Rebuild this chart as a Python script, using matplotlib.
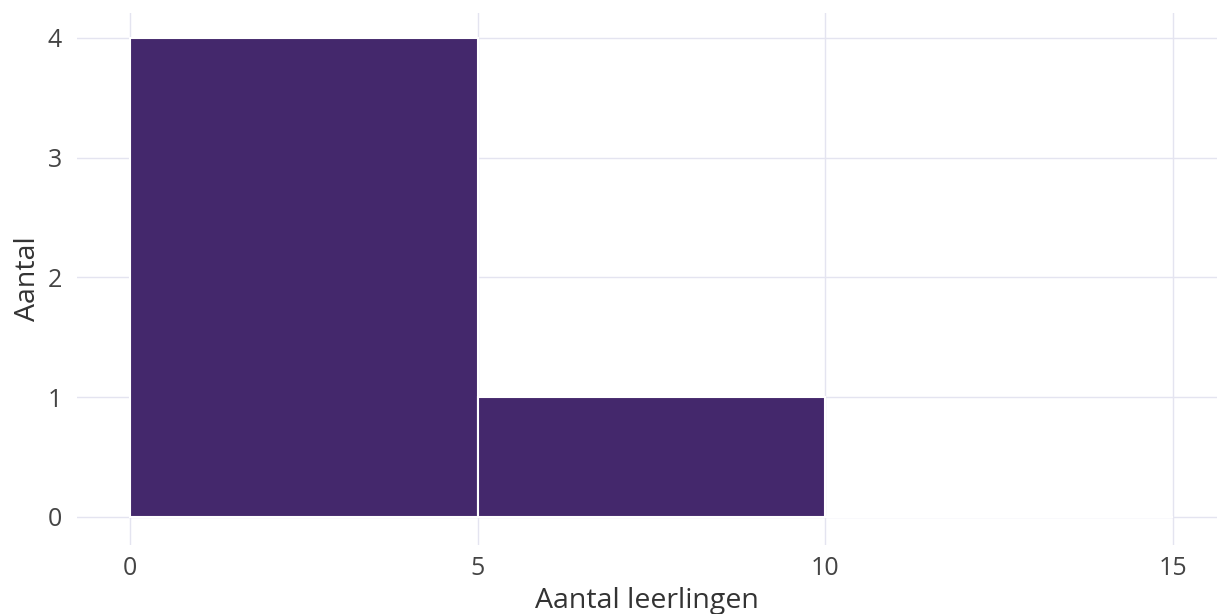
import matplotlib
matplotlib.use("Agg")
import matplotlib.pyplot as plt

bin_edges = [0, 5, 10, 15]
counts = [4, 1, 0]
x_ticks = [0, 5, 10, 15]
y_ticks = [0, 1, 2, 3, 4]
x_label = "Aantal leerlingen"
y_label = "Aantal"

plt.rcParams['font.family'] = ['Open Sans', 'DejaVu Sans']

W, H = 1217, 614
fig = plt.figure(figsize=(W / 100, H / 100), dpi=100)
left, right, top, bottom = 77, 1217, 13, 545
ax = fig.add_axes([left / W, 1 - bottom / H, (right - left) / W, (bottom - top) / H])

x0_px, x15_px = 130, 1173
ppu = (x15_px - x0_px) / 15
ax.set_xlim((left - x0_px) / ppu, (right - x0_px) / ppu)
y0_px, y4_px = 517, 38
ppy = (y0_px - y4_px) / 4
ax.set_ylim((y0_px - bottom) / ppy, (y0_px - top) / ppy)

widths = [bin_edges[i + 1] - bin_edges[i] for i in range(len(counts))]
ax.bar(bin_edges[:-1], counts, width=widths, align='edge', color='#44286c',
       edgecolor='white', linewidth=1.5, zorder=2)

ax.set_xticks(x_ticks)
ax.set_yticks(y_ticks)
ax.grid(True, color='#e4e4f0', linewidth=1.0, zorder=0)
ax.set_axisbelow(True)
for s in ax.spines.values():
    s.set_visible(False)
ax.tick_params(length=0, labelsize=18, colors='#444444', pad=11)
ax.tick_params(axis='x', pad=8)
ax.set_xlabel(x_label, fontsize=20.5, color='#333333', labelpad=4)
ax.set_ylabel(y_label, fontsize=20.5, color='#333333', labelpad=4)

fig.savefig("out.png", dpi=100, facecolor='white')
